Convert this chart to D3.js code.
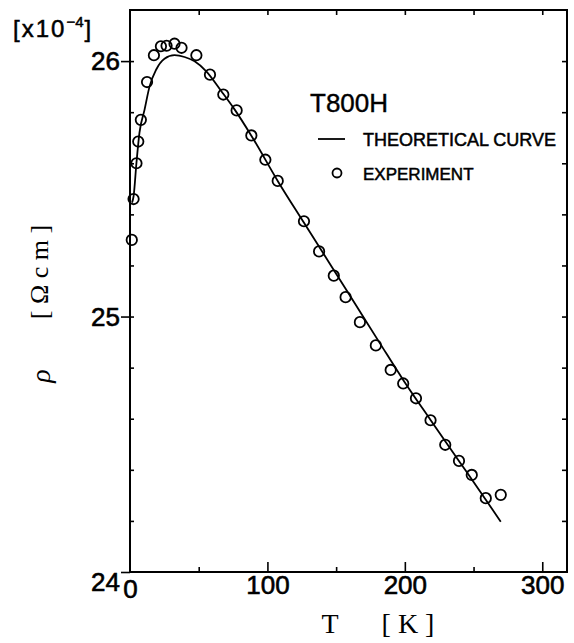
<!DOCTYPE html>
<html>
<head>
<meta charset="utf-8">
<script src="https://cdn.jsdelivr.net/npm/d3@7"></script>
<style>
  html, body { margin: 0; padding: 0; background: #fff; }
  svg { display: block; }
</style>
</head>
<body>
<script>
// ---- data ----
const expT   = [1.3, 2.6, 4.7, 6.0, 7.9, 12.4, 17.4, 22.5, 26.6, 32.4, 37.5, 48.3, 58.2, 67.9, 77.6, 88.3, 98.5, 107.5, 126.6, 137.6, 148.3, 156.9, 167.3, 178.9, 189.7, 198.8, 208.1, 218.7, 229.4, 239.4, 248.7, 258.9, 269.8];
const expRho = [25.30, 25.46, 25.60, 25.685, 25.77, 25.918, 26.023, 26.058, 26.06, 26.068, 26.052, 26.023, 25.947, 25.869, 25.807, 25.709, 25.614, 25.531, 25.373, 25.255, 25.16, 25.076, 24.978, 24.887, 24.791, 24.738, 24.68, 24.594, 24.498, 24.435, 24.38, 24.289, 24.302];
const theoT   = [1.5, 2.6, 4.7, 6.9, 10.6, 14.2, 19.1, 25.1, 32.4, 39.7, 47, 55.5, 66.5, 76.2, 88.3, 107.7, 126.5, 145.4, 164, 181.9, 198.8, 218.7, 240, 258.9, 269.8];
const theoRho = [25.446, 25.47, 25.602, 25.72, 25.81, 25.90, 25.967, 26.009, 26.023, 26.016, 25.999, 25.96, 25.882, 25.81, 25.708, 25.529, 25.368, 25.207, 25.048, 24.895, 24.752, 24.595, 24.43, 24.283, 24.197];
const xMajorTicks = [0, 100, 200, 300];
const xMinorTicks = [50, 150, 250];
const yMajorTicks = [24, 25, 26];
const yMinorTicks = [24.2, 24.4, 24.6, 24.8, 25.0, 25.2, 25.4, 25.6, 25.8, 26.0];
const legendLabels = ["THEORETICAL CURVE", "EXPERIMENT"];
const sampleName = "T800H";

// ---- layout ----
const W = 574, H = 643;
const svg = d3.select("body").append("svg").attr("width", W).attr("height", H)
  .style("background", "#fff");

const x = d3.scaleLinear().domain([0, 318]).range([130, 567]);
const y = d3.scaleLinear().domain([24, 26.2]).range([572, 10]);

const numFont = "'Liberation Sans', Arial, sans-serif";
const serif = "'Liberation Serif', 'Times New Roman', serif";

function styleAxis(g) {
  g.select(".domain").remove();
  g.selectAll(".tick line").attr("stroke", "#000").attr("stroke-width", 1.6);
  g.selectAll("text").attr("fill", "#000").style("font-family", numFont).style("font-size", "26px")
    .style("stroke", "#000").style("stroke-width", 0.6);
}

// left major (outward with labels)
svg.append("g").attr("transform", `translate(${x(0)},0)`)
  .call(d3.axisLeft(y).tickValues(yMajorTicks).tickSize(9).tickPadding(1).tickFormat(d3.format("d")))
  .call(styleAxis)
  .call(g => g.selectAll(".tick text").attr("dy", d => d === 24 ? "0.72em" : "0.33em"));
// left minor (inward)
svg.append("g").attr("transform", `translate(${x(0)},0)`)
  .call(d3.axisRight(y).tickValues(yMinorTicks).tickSize(4).tickFormat(""))
  .call(styleAxis);
// right minor (inward)
svg.append("g").attr("transform", `translate(${x(318)},0)`)
  .call(d3.axisLeft(y).tickValues(yMinorTicks).tickSize(5).tickFormat(""))
  .call(styleAxis);
// bottom ticks inward
svg.append("g").attr("transform", `translate(0,${y(24)})`)
  .call(d3.axisTop(x).tickValues(xMajorTicks.slice(1)).tickSize(10).tickFormat(""))
  .call(styleAxis);
svg.append("g").attr("transform", `translate(0,${y(24)})`)
  .call(d3.axisTop(x).tickValues(xMinorTicks).tickSize(5).tickFormat(""))
  .call(styleAxis);
// bottom labels
svg.append("g").attr("transform", `translate(0,${y(24)})`)
  .call(d3.axisBottom(x).tickValues(xMajorTicks).tickSize(0).tickPadding(4).tickFormat(d3.format("d")))
  .call(styleAxis)
  .call(g => g.selectAll(".tick text").attr("dy", d => d === 0 ? "0.85em" : "0.71em"));
// top ticks inward
svg.append("g").attr("transform", `translate(0,${y(26.2)})`)
  .call(d3.axisBottom(x).tickValues(xMinorTicks.concat(xMajorTicks.slice(1))).tickSize(5).tickFormat(""))
  .call(styleAxis);

// frame
svg.append("rect")
  .attr("x", x(0)).attr("y", y(26.2))
  .attr("width", x(318) - x(0)).attr("height", y(24) - y(26.2))
  .attr("fill", "none").attr("stroke", "#000").attr("stroke-width", 2);

// theoretical curve
const line = d3.line().x((d, i) => x(theoT[i])).y((d, i) => y(theoRho[i])).curve(d3.curveMonotoneX);
svg.append("path").datum(theoT).attr("d", line)
  .attr("fill", "none").attr("stroke", "#000").attr("stroke-width", 1.8);

// experiment points
svg.append("g").selectAll("circle").data(expT).join("circle")
  .attr("cx", (d) => x(d)).attr("cy", (d, i) => y(expRho[i])).attr("r", 5.2)
  .attr("fill", "none").attr("stroke", "#000").attr("stroke-width", 1.8);

// multiplier label
const mult = svg.append("text").attr("x", 13).attr("y", 37)
  .style("font-family", numFont).style("font-size", "24px").attr("fill", "#000")
  .style("stroke", "#000").style("stroke-width", 0.5)
  .style("letter-spacing", "2px");
mult.append("tspan").text("[x10");
mult.append("tspan").attr("dy", -10).style("font-size", "15px").style("letter-spacing", "0px").text("\u22124");
mult.append("tspan").attr("dy", 10).attr("dx", 1).text("]");

// sample name
svg.append("text").attr("x", 310).attr("y", 112)
  .style("font-family", numFont).style("font-size", "26px").attr("fill", "#000")
  .style("stroke", "#000").style("stroke-width", 0.4).text(sampleName);

// legend
svg.append("line").attr("x1", 318).attr("x2", 345).attr("y1", 139).attr("y2", 139)
  .attr("stroke", "#000").attr("stroke-width", 1.8);
svg.append("text").attr("x", 363).attr("y", 146)
  .style("font-family", numFont).style("font-size", "18px").attr("fill", "#000")
  .style("stroke", "#000").style("stroke-width", 0.5).text(legendLabels[0]);
svg.append("circle").attr("cx", 337).attr("cy", 173).attr("r", 4.5)
  .attr("fill", "none").attr("stroke", "#000").attr("stroke-width", 1.8);
svg.append("text").attr("x", 363).attr("y", 180)
  .style("font-family", numFont).style("font-size", "17px").attr("fill", "#000")
  .style("stroke", "#000").style("stroke-width", 0.5).text(legendLabels[1]);

// x axis label
svg.append("text").attr("x", 330).attr("y", 633).attr("text-anchor", "middle")
  .style("font-family", serif).style("font-size", "28px").attr("fill", "#000").text("T");
svg.append("text").attr("x", 408).attr("y", 633).attr("text-anchor", "middle")
  .style("font-family", serif).style("font-size", "28px").attr("fill", "#000")
  .attr("xml:space", "preserve").text("[ K ]");

// y axis label
svg.append("text").attr("transform", "translate(48,272) rotate(-90)").attr("text-anchor", "middle")
  .style("font-family", serif).style("font-size", "26px").attr("fill", "#000")
  .attr("xml:space", "preserve").text("[ \u03A9 c m ]");
svg.append("text").attr("transform", "translate(50,376) rotate(-90)").attr("text-anchor", "middle")
  .style("font-family", serif).style("font-size", "28px").style("font-style", "italic").attr("fill", "#000")
  .text("\u03C1");
</script>
</body>
</html>
